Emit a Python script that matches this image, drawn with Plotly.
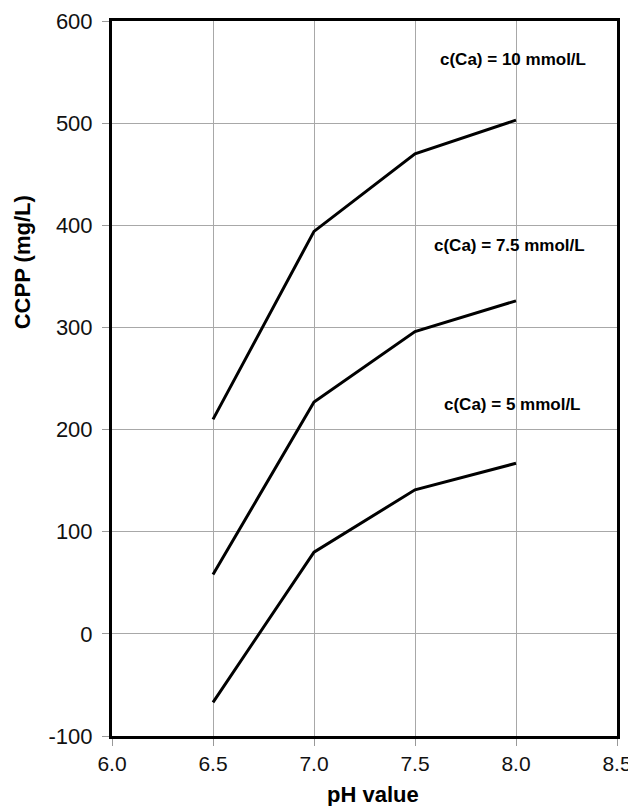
import plotly.graph_objects as go

ph = [6.5, 7.0, 7.5, 8.0]
ca10 = [210, 394, 470, 503]
ca75 = [58, 227, 296, 326]
ca5 = [-67, 80, 141, 167]
labels = ["c(Ca) = 10 mmol/L", "c(Ca) = 7.5 mmol/L", "c(Ca) = 5 mmol/L"]
label_x = [7.985, 7.97, 7.985]
label_y = [562, 380, 225]
y_ticks = [-100, 0, 100, 200, 300, 400, 500, 600]
y_ticktext = ["-100", "0", "100", "200", "300", "400", "500", "600"]
x_ticks = [6.0, 6.5, 7.0, 7.5, 8.0, 8.5]

fig = go.Figure()
for ys, name in zip([ca10, ca75, ca5], labels):
    fig.add_trace(go.Scatter(x=ph, y=ys, mode="lines", name=name,
                             line=dict(color="black", width=3), showlegend=False))

# white label boxes that hide the grid behind the labels
for yv in label_y:
    fig.add_shape(type="rect", xref="x", yref="y", x0=7.88, x1=8.34,
                  y0=yv - 44, y1=yv + 18, fillcolor="white", line=dict(width=0),
                  layer="below")

for txt, xv, yv in zip(labels, label_x, label_y):
    fig.add_annotation(x=xv, y=yv, text="<b>" + txt + "</b>", showarrow=False,
                       font=dict(size=17, color="black"),
                       xanchor="center", yanchor="middle")

fig.add_annotation(xref="paper", yref="paper", x=-0.177, y=0.662, text="<b>CCPP (mg/L)</b>",
                   textangle=-90, showarrow=False, font=dict(size=22, color="black"),
                   xanchor="center", yanchor="middle")
fig.add_annotation(xref="paper", yref="paper", x=0.516, y=-0.061, text="<b>pH value</b>",
                   showarrow=False, font=dict(size=22, color="black"),
                   xanchor="center", yanchor="top")

fig.update_xaxes(range=[6.0, 8.5], tickvals=x_ticks, tickformat=".1f", showgrid=True,
                 gridcolor="#a8a8a8", gridwidth=1, showline=True, linecolor="black",
                 linewidth=3, mirror=True, ticks="outside", ticklen=7, tickcolor="#999",
                 ticklabelstandoff=0, automargin=False,
                 tickfont=dict(size=21, color="#111"), zeroline=False)
fig.update_yaxes(range=[-100, 600], tickvals=y_ticks, ticktext=y_ticktext, showgrid=True,
                 gridcolor="#a8a8a8", gridwidth=1, showline=True, linecolor="black",
                 linewidth=3, mirror=True, ticks="outside", ticklen=7, tickcolor="#999",
                 ticklabelstandoff=5, automargin=False,
                 tickfont=dict(size=22, color="#111"), zeroline=False)

fig.update_layout(width=636, height=806, margin=dict(l=104, r=27, t=13, b=78),
                  paper_bgcolor="white", plot_bgcolor="white",
                  font=dict(family="Liberation Sans, Arial, sans-serif", color="black"))

fig.write_html("out.html")
